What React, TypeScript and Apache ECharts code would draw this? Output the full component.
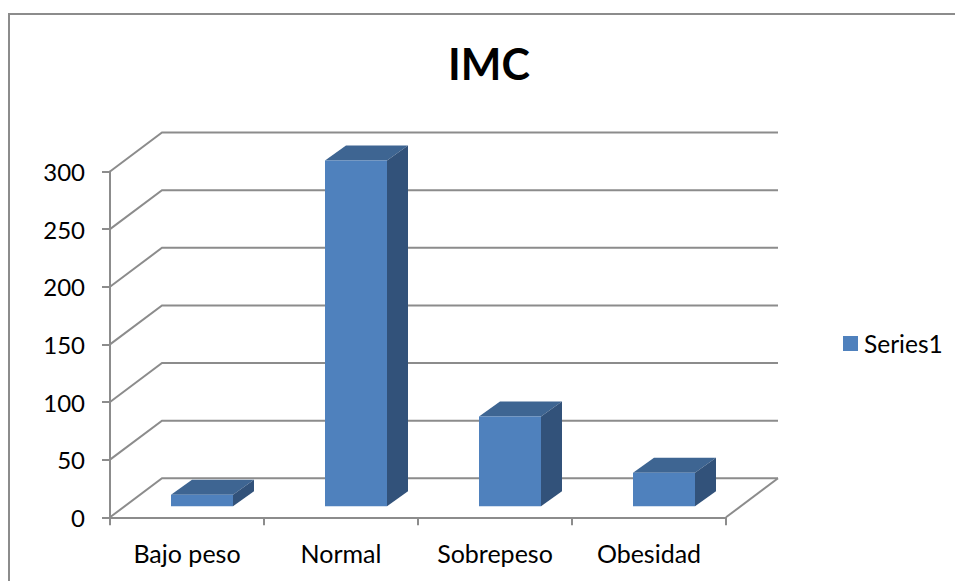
import React, { useEffect, useRef } from "react";
import * as echarts from "echarts";

const categories = ["Bajo peso", "Normal", "Sobrepeso", "Obesidad"];
const seriesName = "Series1";
const values = [10, 300, 78, 29];
const yTicks = [0, 50, 100, 150, 200, 250, 300];

const FONT = "Lato, Carlito, sans-serif";
const GRID_COLOR = "#8c8c8c";
const FRONT = "#4f81bd";
const TOP = "#3e6592";
const SIDE = "#32527a";

// Oblique projection of the chart's depth, in pixels.
const DEPTH_X = 52;
const DEPTH_Y = 39;
const BAR_RATIO = 62 / 154;
const BAR_DEPTH_X = 21;
const BAR_DEPTH_Y = 15;
const BAR_INSET_Y = 11;

const App = () => {
  const ref = useRef<HTMLDivElement>(null);

  useEffect(() => {
    document.body.style.margin = "0";
    document.body.style.background = "#ffffff";
    const chart = echarts.init(ref.current!, null, { renderer: "svg" });

    const renderWall = (params: any, api: any) => {
      const cs = params.coordSys;
      const y = api.coord([0, api.value(1)])[1];
      const x0 = cs.x;
      const x1 = cs.x + cs.width;
      const lineStyle = { stroke: GRID_COLOR, lineWidth: 2, fill: "none" };
      const children: any[] = [
        {
          type: "polyline",
          shape: {
            points: [
              [x0, y],
              [x0 + DEPTH_X, y - DEPTH_Y],
              [x1 + DEPTH_X, y - DEPTH_Y],
            ],
          },
          style: lineStyle,
        },
      ];
      if (api.value(1) === 0) {
        children.push({
          type: "line",
          shape: { x1, y1: y, x2: x1 + DEPTH_X, y2: y - DEPTH_Y },
          style: lineStyle,
        });
      }
      return { type: "group", children };
    };

    const renderBar = (_params: any, api: any) => {
      const [cx, top] = api.coord([api.value(0), api.value(1)]);
      const [, floor] = api.coord([api.value(0), 0]);
      const w = api.size([1, 0])[0] * BAR_RATIO;
      const x0 = cx - w / 2 + 15;
      const x1 = x0 + w;
      const yTop = top - BAR_INSET_Y;
      const yBase = floor - BAR_INSET_Y;
      const dx = BAR_DEPTH_X;
      const dy = BAR_DEPTH_Y;
      return {
        type: "group",
        children: [
          {
            type: "polygon",
            shape: { points: [[x0, yTop], [x1, yTop], [x1 + dx, yTop - dy], [x0 + dx, yTop - dy]] },
            style: { fill: TOP },
          },
          {
            type: "polygon",
            shape: { points: [[x1, yTop], [x1 + dx, yTop - dy], [x1 + dx, yBase - dy], [x1, yBase]] },
            style: { fill: SIDE },
          },
          {
            type: "rect",
            shape: { x: x0, y: yTop, width: w, height: yBase - yTop },
            style: { fill: FRONT },
          },
        ],
      };
    };

    chart.setOption({
      animation: false,
      backgroundColor: "#ffffff",
      title: {
        text: "IMC",
        left: 484,
        top: 37,
        textAlign: "center",
        textStyle: { fontFamily: FONT, fontWeight: "bold", fontSize: 43, color: "#000000" },
      },
      legend: {
        left: 843,
        top: 331,
        padding: 0,
        itemWidth: 15,
        itemHeight: 15,
        itemGap: 0,
        icon: "rect",
        data: [{ name: seriesName, itemStyle: { color: FRONT } }],
        textStyle: { fontFamily: FONT, fontSize: 24.5, color: "#000000", padding: [0, 0, 0, 1] },
      },
      grid: { left: 110, right: 229, top: 171.5, bottom: 63.7 },
      xAxis: {
        type: "category",
        data: categories,
        boundaryGap: true,
        axisLine: { lineStyle: { color: GRID_COLOR, width: 2 } },
        axisTick: { show: true, length: 8, alignWithLabel: false, lineStyle: { color: GRID_COLOR, width: 2 } },
        axisLabel: { interval: 0, margin: 23, fontFamily: FONT, fontSize: 25, color: "#000000" },
        splitLine: { show: false },
      },
      yAxis: {
        type: "value",
        min: 0,
        max: 300,
        interval: 50,
        axisLine: { show: true, lineStyle: { color: GRID_COLOR, width: 2 } },
        axisTick: { show: true, length: 8, lineStyle: { color: GRID_COLOR, width: 2 } },
        axisLabel: { margin: 25, fontFamily: FONT, fontSize: 24, color: "#000000" },
        splitLine: { show: false },
      },
      series: [
        {
          type: "custom",
          name: "walls",
          silent: true,
          renderItem: renderWall,
          encode: { x: 0, y: 1 },
          data: yTicks.map((t) => [0, t]),
          z: 1,
        },
        {
          type: "custom",
          name: seriesName,
          renderItem: renderBar,
          encode: { x: 0, y: 1 },
          data: values.map((v, i) => [i, v]),
          itemStyle: { color: FRONT },
          z: 5,
        },
      ],
      graphic: [
        {
          type: "polyline",
          silent: true,
          shape: { points: [[9, 581], [9, 14], [955, 14]] },
          style: { stroke: GRID_COLOR, lineWidth: 2, fill: "none" },
        },
      ],
    });

    return () => chart.dispose();
  }, []);

  return <div ref={ref} style={{ width: 955, height: 581 }} />;
};

export default App;
